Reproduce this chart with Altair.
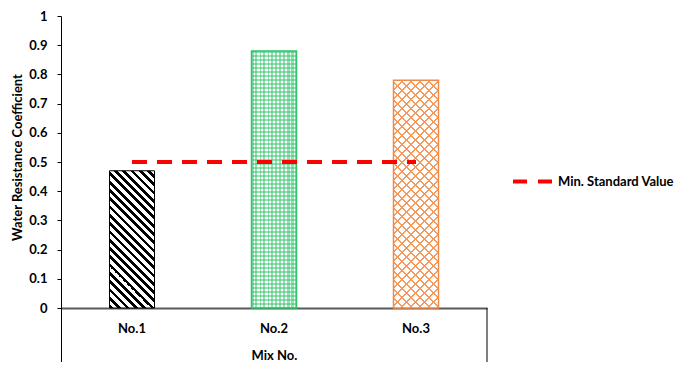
import altair as alt
import pandas as pd

# ---- data ----
mixes = ["No.1", "No.2", "No.3"]
coefficients = [0.47, 0.88, 0.78]
standard_label = "Min. Standard Value"
standard_values = [0.5, 0.5, 0.5]
y_ticks = [0, 0.1, 0.2, 0.3, 0.4, 0.5, 0.6, 0.7, 0.8, 0.9, 1]

bars_df = pd.DataFrame({"mix": mixes, "value": coefficients})
line_df = pd.DataFrame({"mix": mixes, "value": standard_values,
                        "label": [standard_label] * len(mixes)})

# ---- layout / style ----
W, H = 426, 292
TOP = 8
BAR_W = 45
FONT = "Lato"


def _stops(L, period, frac, color, bg):
    stops = []
    i = 0
    while i * period < L + period:
        o0 = min(i * period / L, 1)
        o1 = min((i + frac) * period / L, 1)
        o2 = min((i + 1) * period / L, 1)
        stops += [{"offset": o0, "color": color}, {"offset": o1, "color": color},
                  {"offset": o1, "color": bg}, {"offset": o2, "color": bg}]
        i += 1
    return stops


def diag(w, h, direction, period_x, frac, color, bg):
    k = (w + h) / (w * w + h * h)
    L = w + h
    if direction == "\\":
        geo = {"x1": 0, "y1": 1, "x2": w * k, "y2": 1 - h * k}
    else:
        geo = {"x1": 0, "y1": 0, "x2": w * k, "y2": h * k}
    g = {"gradient": "linear", "stops": _stops(L, period_x, frac, color, bg)}
    g.update(geo)
    return g


def straight(w, h, vertical, period, frac, color, bg):
    L = w if vertical else h
    g = {"gradient": "linear", "stops": _stops(L, period, frac, color, bg),
         "x1": 0, "y1": 0, "x2": 1 if vertical else 0, "y2": 0 if vertical else 1}
    return g


CLEAR = "rgba(255,255,255,0)"

x_enc = alt.X("mix:N", scale=alt.Scale(domain=mixes, paddingInner=0, paddingOuter=0),
              axis=alt.Axis(title="Mix No.", labelAngle=0, ticks=False, domainColor="#595959",
                            domainWidth=2, labelPadding=14, titlePadding=14,
                            labelFont=FONT, labelFontSize=13, labelFontWeight="bold",
                            labelColor="black", titleFont=FONT, titleFontSize=13,
                            titleFontWeight="bold", titleColor="black"))
y_enc = alt.Y("value:Q", scale=alt.Scale(domain=[0, 1], nice=False),
              axis=alt.Axis(title="Water Resistance Coefficient", values=y_ticks, format=".1~f",
                            labelOverlap=False, grid=False, domainColor="black",
                            tickColor="black", tickSize=4, labelPadding=10,
                            labelFont=FONT, labelFontSize=13, labelFontWeight="bold",
                            labelColor="black", titleFont=FONT, titleFontSize=13,
                            titleFontWeight="bold", titleColor="black",
                            titleX=-50, titleY=141, titleAngle=270, titleBaseline="top",
                            titleAlign="center"))

base = alt.Chart(bars_df)
layers = []

# No.1 : black diagonal hatch
h1 = coefficients[0] * H
layers.append(base.transform_filter(alt.datum.mix == mixes[0]).mark_bar(
    size=BAR_W, fill=diag(BAR_W, h1, "\\", 8.3, 0.45, "black", "white"),
    stroke="black", strokeWidth=1).encode(x=x_enc, y=y_enc))

# No.2 : green small grid
h2 = coefficients[1] * H
b2 = base.transform_filter(alt.datum.mix == mixes[1])
layers.append(b2.mark_bar(size=BAR_W, fill="white")
              .encode(x=x_enc, y=y_enc))
layers.append(b2.mark_bar(size=BAR_W, fill=straight(BAR_W, h2, True, 4, 0.5, "rgba(46,196,106,0.5)", CLEAR))
              .encode(x=x_enc, y=y_enc))
layers.append(b2.mark_bar(size=BAR_W, fill=straight(BAR_W, h2, False, 4, 0.5, "rgba(46,196,106,0.5)", CLEAR),
                          stroke="#2ec46a", strokeWidth=1.5)
              .encode(x=x_enc, y=y_enc))

# No.3 : orange diamond lattice
h3 = coefficients[2] * H
b3 = base.transform_filter(alt.datum.mix == mixes[2])
layers.append(b3.mark_bar(size=BAR_W, fill="white").encode(x=x_enc, y=y_enc))
layers.append(b3.mark_bar(size=BAR_W, fill=diag(BAR_W, h3, "\\", 9, 0.22, "#f39a5c", CLEAR))
              .encode(x=x_enc, y=y_enc))
layers.append(b3.mark_bar(size=BAR_W, fill=diag(BAR_W, h3, "/", 9, 0.22, "#f39a5c", CLEAR),
                          stroke="#f08a4b", strokeWidth=1.5)
              .encode(x=x_enc, y=y_enc))

# frame lines below the category axis (Excel-style)
frame = alt.Chart(pd.DataFrame({"k": [0]}))
layers.append(frame.mark_rule(color="black", strokeWidth=1).encode(
    x=alt.value(0.5), y=alt.value(H), y2=alt.value(H + 70)))
layers.append(frame.mark_rule(color="black", strokeWidth=1).encode(
    x=alt.value(W), y=alt.value(H), y2=alt.value(H + 70)))

# standard value dashed line
layers.append(alt.Chart(line_df).mark_line(strokeDash=[15, 10], strokeWidth=4).encode(
    x=x_enc, y=y_enc,
    color=alt.Color("label:N", scale=alt.Scale(domain=[standard_label], range=["#ff0000"]),
                    legend=alt.Legend(title=None, orient="none", legendX=450, legendY=144,
                                      symbolType="stroke", symbolSize=1521, symbolStrokeWidth=4,
                                      symbolDash=[14, 11], labelFont=FONT, labelFontSize=13,
                                      labelFontWeight="bold", labelColor="black", labelOffset=4,
                                      padding=0))))

chart = alt.layer(*layers).properties(
    width=W, height=H,
    autosize=alt.AutoSizeParams(type="none"),
    padding={"left": 53, "top": TOP, "right": 190, "bottom": 354 - TOP - H},
).configure_view(stroke=None)

chart.save("out.html", embed_options={"renderer": "svg", "actions": False})
